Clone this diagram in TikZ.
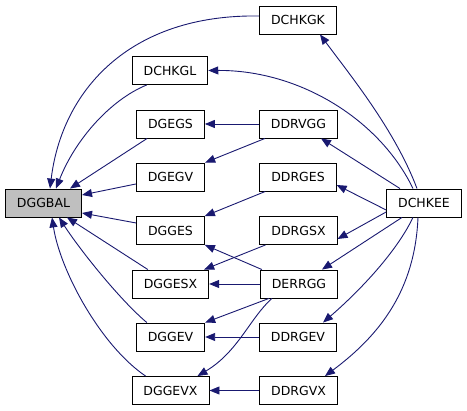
\documentclass[tikz,border=0pt]{standalone}
\usepackage{fontspec}
\setmainfont{DejaVu Sans}
\usetikzlibrary{arrows.meta}
\definecolor{edgeblue}{HTML}{191970}
\definecolor{boxgray}{HTML}{BFBFBF}
\tikzset{
  fn/.style={draw=black, line width=0.9pt, fill=white, minimum height=28pt, inner xsep=11.5pt, inner ysep=0pt, font=\fontsize{12.5}{15}\selectfont, anchor=center},
  cur/.style={fn, fill=boxgray},
  call/.style={draw=edgeblue, line width=0.9pt, -{Triangle[length=10pt,width=8pt]}},
}
\begin{document}
\begin{tikzpicture}[x=1pt,y=-1pt]
\useasboundingbox (0,0) rectangle (467,411);
% nodes
\node[cur] (dggbal) at (43.5,203) {DGGBAL};
\node[fn] (dchkgk) at (298,20) {DCHKGK};
\node[fn] (dchkgl) at (170,70.5) {DCHKGL};
\node[fn] (dgegs) at (170.5,124) {DGEGS};
\node[fn] (ddrvgg) at (298.5,124) {DDRVGG};
\node[fn] (dgegv) at (170.5,177) {DGEGV};
\node[fn] (ddrges) at (298,177) {DDRGES};
\node[fn] (dchkee) at (424,203) {DCHKEE};
\node[fn] (dgges) at (170.5,230.5) {DGGES};
\node[fn] (ddrgsx) at (298.5,230.5) {DDRGSX};
\node[fn] (dggesx) at (170.5,284) {DGGESX};
\node[fn] (derrgg) at (299,284) {DERRGG};
\node[fn] (dggev) at (170.5,337) {DGGEV};
\node[fn] (ddrgev) at (298,337) {DDRGEV};
\node[fn] (dggevx) at (170.5,390.5) {DGGEVX};
\node[fn] (ddrgvx) at (298.5,390.5) {DDRGVX};
% edges into DGGBAL
\draw[call] ([yshift=4pt]dchkgk.west) .. controls (130,14) and (62,90) .. ([xshift=6.5pt]dggbal.north);
\draw[call] ([xshift=15pt]dchkgl.south west) .. controls (110,100) and (75,140) .. ([xshift=12.5pt]dggbal.north);
\draw[call] ([xshift=11pt]dgegs.south west) -- ([xshift=26.5pt]dggbal.north);
\draw[call] ([yshift=-7pt]dgegv.west) -- ([yshift=8pt]dggbal.east);
\draw[call] ([yshift=7.5pt]dgges.west) -- ([yshift=-10pt]dggbal.east);
\draw[call] ([xshift=16pt]dggesx.north west) -- ([xshift=23.5pt]dggbal.south);
\draw[call] ([xshift=11pt]dggev.north west) .. controls (120,300) and (80,250) .. ([xshift=15.5pt]dggbal.south);
\draw[call] ([xshift=14pt]dggevx.north west) .. controls (100,345) and (60,270) .. ([xshift=8.5pt]dggbal.south);
% edges from DCHKEE
\draw[call] ([xshift=-7pt]dchkee.north) .. controls (395,130) and (350,75) .. ([xshift=22pt]dchkgk.south);
\draw[call] ([xshift=-11pt]dchkee.north) .. controls (380,120) and (300,70) .. (dchkgl.east);
\draw[call] ([xshift=-24pt]dchkee.north) -- ([xshift=22.5pt]ddrvgg.south);
\draw[call] ([yshift=-7pt]dchkee.west) -- ([yshift=-8pt]ddrges.east);
\draw[call] ([yshift=-9pt]dchkee.west) -- ([yshift=-8.5pt]ddrgsx.east);
\draw[call] ([xshift=-22pt]dchkee.south) -- ([xshift=23pt]derrgg.north);
\draw[call] ([xshift=-11pt]dchkee.south) .. controls (395,255) and (355,295) .. ([xshift=25pt]ddrgev.north);
\draw[call] ([xshift=-6pt]dchkee.south) .. controls (415,290) and (380,335) .. ([xshift=26.5pt]ddrgvx.north);
% middle edges
\draw[call] (ddrvgg.west) -- (dgegs.east);
\draw[call] ([xshift=6pt]ddrvgg.south west) -- (dgegv.north east);
\draw[call] ([xshift=6pt]ddrges.south west) -- (dgges.north east);
\draw[call] ([xshift=6pt]ddrgsx.south west) -- ([xshift=-5pt]dggesx.north east);
\draw[call] ([xshift=2pt]derrgg.north west) -- (dgges.south east);
\draw[call] (derrgg.west) -- (dggesx.east);
\draw[call] ([xshift=9pt]derrgg.south west) -- (dggev.north east);
\draw[call] ([xshift=12pt]derrgg.south west) .. controls (250,318) and (238,352) .. ([xshift=-12pt]dggevx.north east);
\draw[call] (ddrgev.west) -- (dggev.east);
\draw[call] (ddrgvx.west) -- (dggevx.east);
\end{tikzpicture}
\end{document}
